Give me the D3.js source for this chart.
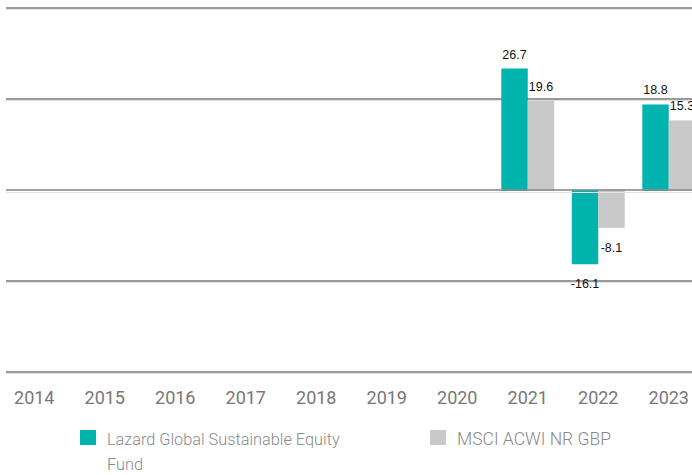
<!DOCTYPE html>
<html><head><meta charset="utf-8">
<script src="https://cdn.jsdelivr.net/npm/d3@7"></script>
<style>body{margin:0;background:#fff;}svg{display:block;}</style>
</head><body>
<svg id="c" width="692" height="475"></svg>
<script>
const years = ["2014","2015","2016","2017","2018","2019","2020","2021","2022","2023"];
const fundValues = [null,null,null,null,null,null,null,26.7,-16.1,18.8];
const indexValues = [null,null,null,null,null,null,null,19.6,-8.1,15.3];
const seriesNames = ["Lazard Global Sustainable Equity", "Fund"];
const indexName = "MSCI ACWI NR GBP";
const gridTicks = [40,20,0,-20,-40];

const colors = {fund:"#00b3ad", index:"#c9c9c9"};
const svg = d3.select("#c");
const x = d3.scaleBand().domain(years).range([-1, -1 + 70.5*years.length]).paddingInner(0.25).paddingOuter(0.125);
const y = d3.scaleLinear().domain([-40,40]).range([372,8]);
const bw = x.bandwidth()/2;

// gridlines
const g = svg.append("g");
gridTicks.filter(t=>t!==0).forEach(t=>{
  g.append("line").attr("x1",6).attr("x2",700).attr("y1",y(t)+1.5).attr("y2",y(t)+1.5).attr("stroke","#e2e2e2").attr("stroke-width",1);
  g.append("line").attr("x1",6).attr("x2",700).attr("y1",y(t)).attr("y2",y(t)).attr("stroke","#9a9a9a").attr("stroke-width",2);
});

const data = years.map((yr,i)=>({yr, f:fundValues[i], m:indexValues[i]}));
const bars = svg.append("g");
data.forEach(d=>{
  if(d.f!=null){
    bars.append("rect").attr("x",x(d.yr)).attr("width",bw)
      .attr("y",y(Math.max(0,d.f))).attr("height",Math.abs(y(d.f)-y(0))+1).attr("fill",colors.fund);
  }
  if(d.m!=null){
    bars.append("rect").attr("x",x(d.yr)+bw).attr("width",bw)
      .attr("y",y(Math.max(0,d.m))).attr("height",Math.abs(y(d.m)-y(0))+1).attr("fill",colors.index);
  }
});
// zero line on top
svg.append("line").attr("x1",6).attr("x2",700).attr("y1",y(0)+2.5).attr("y2",y(0)+2.5).attr("stroke","#e2e2e2").attr("stroke-width",1);
svg.append("line").attr("x1",6).attr("x2",700).attr("y1",y(0)).attr("y2",y(0)).attr("stroke","#8a8a8a").attr("stroke-width",2).attr("stroke-opacity",0.8);

// value labels
const lab = svg.append("g").attr("font-family","Liberation Sans, Arial, sans-serif").attr("font-size",12.5).attr("fill","#111").attr("text-anchor","middle");
data.forEach(d=>{
  [[d.f,0],[d.m,1]].forEach(([v,k])=>{
    if(v==null) return;
    const cx = x(d.yr)+bw*k+bw/2;
    const yy = v>=0 ? y(v)-10 : y(v)+25;
    lab.append("text").attr("x",cx).attr("y",yy).text(v.toFixed(1));
  });
});

// x axis labels
const ax = svg.append("g").attr("font-family","Roboto, sans-serif").attr("font-weight",400).attr("font-size",18).attr("fill","#777").attr("text-anchor","middle");
years.forEach(yr=>{
  ax.append("text").attr("x",x(yr)+x.bandwidth()/2).attr("y",404).text(yr);
});

// legend
const lg = svg.append("g").attr("font-family","Roboto, sans-serif").attr("font-weight",300).attr("fill","#8a8a8a");
lg.append("rect").attr("x",80).attr("y",430).attr("width",16).attr("height",15).attr("fill",colors.fund);
const t1 = lg.append("text").attr("x",107).attr("y",445).attr("font-size",16.3);
t1.append("tspan").attr("x",107).text(seriesNames[0]);
t1.append("tspan").attr("x",107).attr("dy",25).text(seriesNames[1]);
lg.append("rect").attr("x",430).attr("y",430).attr("width",16).attr("height",15).attr("fill",colors.index);
lg.append("text").attr("x",457).attr("y",445).attr("font-size",17.5).text(indexName);
</script>
</body></html>
